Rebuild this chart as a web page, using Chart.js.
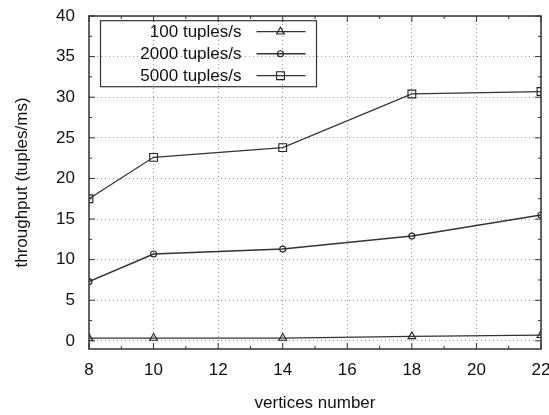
<!DOCTYPE html>
<html>
<head>
<meta charset="utf-8">
<script src="https://cdn.jsdelivr.net/npm/chart.js@4/dist/chart.umd.min.js"></script>
<style>
  html, body { margin: 0; padding: 0; background: #fff; }
  #wrap { width: 549px; height: 415px; }
</style>
</head>
<body>
<div id="wrap"><canvas id="chart" width="549" height="415"></canvas></div>
<script>
const vertices = [8, 10, 14, 18, 22];
const rate100 = [0.35, 0.35, 0.35, 0.55, 0.7];
const rate2000 = [7.3, 10.7, 11.3, 12.9, 15.5];
const rate5000 = [17.5, 22.6, 23.8, 30.4, 30.7];
const seriesLabels = ['100 tuples/s', '2000 tuples/s', '5000 tuples/s'];

const xTicks = [8, 10, 12, 14, 16, 18, 20, 22];
const xMinorTicks = [9, 11, 13, 15, 17, 19, 21];
const yTicks = [0, 5, 10, 15, 20, 25, 30, 35, 40];
const yMinorTicks = [2.5, 7.5, 12.5, 17.5, 22.5, 27.5, 32.5, 37.5];

const FONT = "'Liberation Sans', Arial, sans-serif";
const INK = '#111';

function points(ys) {
  return vertices.map((x, i) => ({ x: x, y: ys[i] }));
}

function series(label, ys, style, radius, width) {
  return {
    label: label,
    data: points(ys),
    borderColor: '#333',
    borderWidth: width,
    pointStyle: style,
    pointRadius: radius,
    pointBorderColor: '#222',
    pointBorderWidth: 1.1,
    pointBackgroundColor: 'transparent',
    tension: 0
  };
}

// keep the plot box where the reference has it, labels may overflow
function pinScale(s, size) {
  if (s.isHorizontal()) s.height = size; else s.width = size;
  s.paddingLeft = s.paddingRight = s.paddingTop = s.paddingBottom = 0;
}

// frame + inward ticks on all four sides, gnuplot style
const framePlugin = {
  id: 'frame',
  afterDatasetsDraw(chart) {
    const { ctx, chartArea: a, scales } = chart;
    ctx.save();
    ctx.strokeStyle = '#333';
    ctx.lineWidth = 1;
    const tick = (x1, y1, x2, y2) => {
      ctx.beginPath(); ctx.moveTo(x1, y1); ctx.lineTo(x2, y2); ctx.stroke();
    };
    xTicks.forEach(v => {
      const px = scales.x.getPixelForValue(v);
      tick(px, a.bottom, px, a.bottom - 6);
      tick(px, a.top, px, a.top + 6);
    });
    xMinorTicks.forEach(v => {
      const px = scales.x.getPixelForValue(v);
      tick(px, a.bottom, px, a.bottom - 3);
      tick(px, a.top, px, a.top + 3);
    });
    yTicks.forEach(v => {
      const py = scales.y.getPixelForValue(v);
      tick(a.left, py, a.left + 6, py);
      tick(a.right, py, a.right - 6, py);
    });
    yMinorTicks.forEach(v => {
      const py = scales.y.getPixelForValue(v);
      tick(a.left, py, a.left + 3, py);
      tick(a.right, py, a.right - 3, py);
    });
    ctx.lineWidth = 1.5;
    ctx.strokeRect(a.left, a.top, a.right - a.left, a.bottom - a.top);
    ctx.restore();
  }
};

// boxed key in the upper left, labels right aligned before the sample
const keyPlugin = {
  id: 'key',
  afterDraw(chart) {
    const { ctx, chartArea: a } = chart;
    const left = a.left + 11.5, top = a.top + 4.7;
    ctx.save();
    ctx.strokeStyle = '#333';
    ctx.lineWidth = 1.2;
    ctx.strokeRect(left, top, 216, 66);
    ctx.font = '17px ' + FONT;
    ctx.textAlign = 'right';
    ctx.textBaseline = 'middle';
    chart.data.datasets.forEach((ds, i) => {
      const y = top + 11 + i * 22;
      ctx.fillStyle = INK;
      ctx.fillText(ds.label, left + 141, y + 1);
      ctx.strokeStyle = ds.borderColor;
      ctx.lineWidth = ds.borderWidth;
      ctx.beginPath();
      ctx.moveTo(left + 156, y);
      ctx.lineTo(left + 205, y);
      ctx.stroke();
      ctx.strokeStyle = ds.pointBorderColor;
      ctx.fillStyle = 'rgba(0,0,0,0)';
      ctx.lineWidth = ds.pointBorderWidth;
      Chart.helpers.drawPoint(ctx, { pointStyle: ds.pointStyle, radius: ds.pointRadius, rotation: 0, borderWidth: ds.pointBorderWidth }, left + 180, y);
    });
    ctx.restore();
  }
};

new Chart(document.getElementById('chart'), {
  type: 'line',
  data: {
    datasets: [
      series(seriesLabels[0], rate100, 'triangle', 4.5, 1.2),
      series(seriesLabels[1], rate2000, 'circle', 3, 1.5),
      series(seriesLabels[2], rate5000, 'rect', 5.5, 1.2)
    ]
  },
  options: {
    responsive: false,
    animation: false,
    layout: { autoPadding: false, padding: { top: 16, right: 8, left: 0, bottom: 0 } },
    plugins: { legend: { display: false }, tooltip: { enabled: false } },
    scales: {
      x: {
        type: 'linear',
        min: 8,
        max: 22,
        afterFit: s => pinScale(s, 66),
        afterBuildTicks: s => { s.ticks = xTicks.map(v => ({ value: v })); },
        grid: { color: '#999', lineWidth: 1, drawTicks: false },
        border: { display: false, dash: [1, 3] },
        ticks: { color: INK, font: { family: FONT, size: 17 }, padding: 11, maxRotation: 0 },
        title: { display: true, text: 'vertices number', color: INK, font: { family: FONT, size: 17 }, padding: { top: 0, bottom: 1 } }
      },
      y: {
        type: 'linear',
        min: -1,
        max: 40,
        afterFit: s => pinScale(s, 89),
        afterBuildTicks: s => { s.ticks = yTicks.map(v => ({ value: v })); },
        grid: { color: '#999', lineWidth: 1, drawTicks: false },
        border: { display: false, dash: [1, 3] },
        ticks: { color: INK, font: { family: FONT, size: 17 }, padding: 14 },
        title: { display: true, text: 'throughput (tuples/ms)', color: INK, font: { family: FONT, size: 17 }, padding: { top: 12, bottom: 0 } }
      }
    }
  },
  plugins: [framePlugin, keyPlugin]
});
</script>
</body>
</html>
